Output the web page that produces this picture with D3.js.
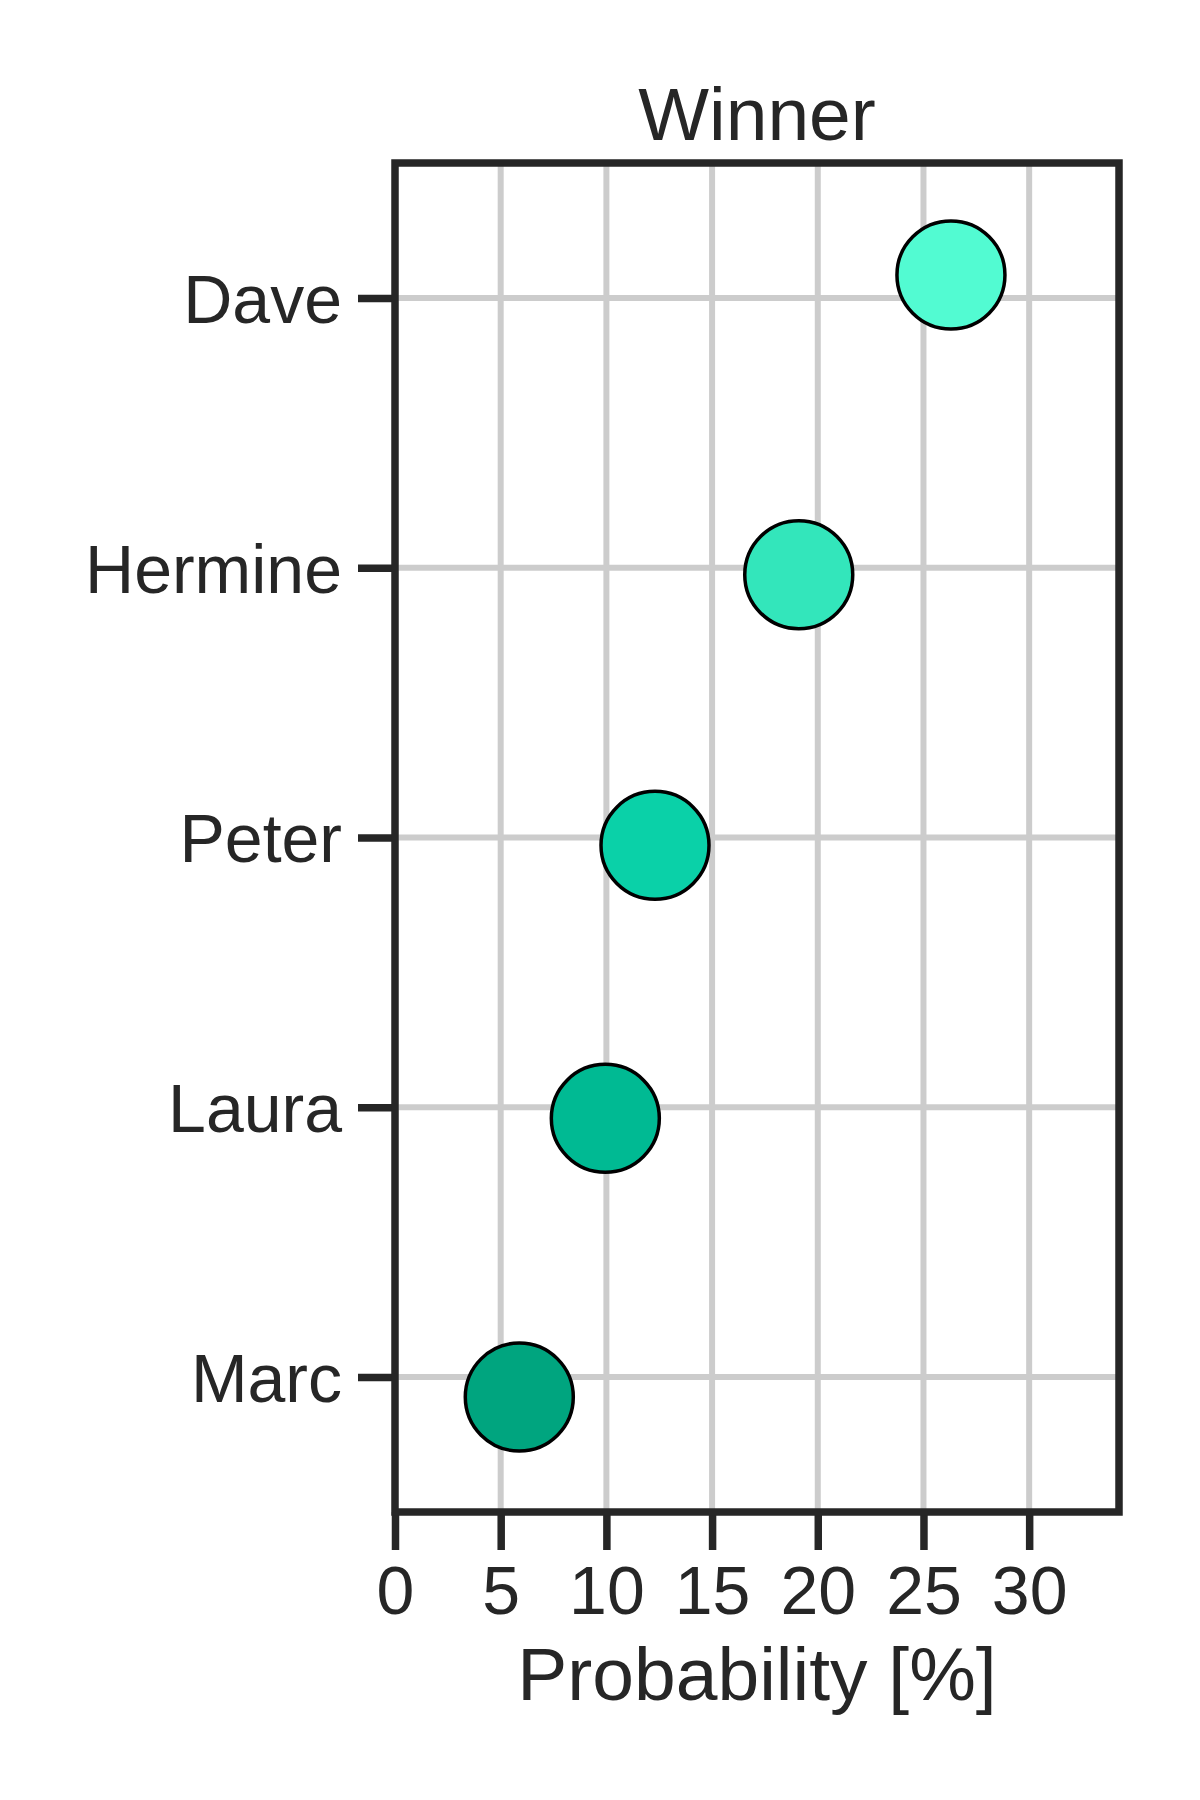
<!DOCTYPE html>
<html>
<head>
<meta charset="utf-8">
<script src="https://cdn.jsdelivr.net/npm/d3@7"></script>
<style>
  html, body { margin: 0; padding: 0; background: #ffffff; }
  svg { display: block; }
  text { font-family: "Liberation Sans", Arial, sans-serif; fill: #262626; }
</style>
</head>
<body>
<script>
// ---- data ----
const categories = ["Dave", "Hermine", "Peter", "Laura", "Marc"];
const probabilities = [26.3, 19.1, 12.3, 9.95, 5.88];
const jitter = [-0.085, 0.026, 0.029, 0.041, 0.074]; // stripplot jitter, in category steps
const colors = ["#52fbd2", "#33e6bb", "#0ad1a8", "#00ba93", "#00a57f"];
const xTicks = [0, 5, 10, 15, 20, 25, 30];
const xDomain = [0, 34.25];
const title = "Winner";
const xLabel = "Probability [%]";

(function () {
// ---- layout ----
const W = 1200, H = 1800;
const mLeft = 395, mRight = 1119, mTop = 163, mBottom = 1512;
const ink = "#262626";

const svg = d3.select("body").append("svg").attr("width", W).attr("height", H);

const x = d3.scaleLinear().domain(xDomain).range([mLeft, mRight]);
const y = d3.scalePoint().domain(categories).range([mTop, mBottom]).padding(0.5);
const step = y.step();

// gridlines
const grid = svg.append("g");
grid.selectAll("line.vg").data(xTicks).join("line").attr("class", "vg")
  .attr("x1", d => x(d)).attr("x2", d => x(d))
  .attr("y1", mTop).attr("y2", mBottom)
  .attr("stroke", "#cccccc").attr("stroke-width", 6);
grid.selectAll("line.hg").data(categories).join("line").attr("class", "hg")
  .attr("x1", mLeft).attr("x2", mRight)
  .attr("y1", d => y(d)).attr("y2", d => y(d))
  .attr("stroke", "#cccccc").attr("stroke-width", 6);

// points
const pts = categories.map((c, i) => ({c, v: probabilities[i], j: jitter[i], col: colors[i]}));
svg.append("g").selectAll("circle").data(pts).join("circle")
  .attr("cx", d => x(d.v))
  .attr("cy", d => y(d.c) + d.j * step)
  .attr("r", 54)
  .attr("fill", d => d.col)
  .attr("stroke", "#000000")
  .attr("stroke-width", 3.5);

// axes
const xAxis = d3.axisBottom(x).tickValues(xTicks).tickSize(38).tickPadding(16).tickSizeOuter(0);
const gx = svg.append("g").attr("transform", `translate(0,${mBottom})`).call(xAxis);
gx.select(".domain").remove();
gx.selectAll(".tick line").attr("stroke", ink).attr("stroke-width", 7.5);
gx.selectAll(".tick text").attr("font-size", 68).attr("fill", ink)
  .attr("font-family", "'Liberation Sans', Arial, sans-serif");

const yAxis = d3.axisLeft(y).tickSize(37).tickPadding(16).tickSizeOuter(0);
const gy = svg.append("g").attr("transform", `translate(${mLeft},0)`).call(yAxis);
gy.select(".domain").remove();
gy.selectAll(".tick line").attr("stroke", ink).attr("stroke-width", 7.5);
gy.selectAll(".tick text").attr("font-size", 68).attr("fill", ink)
  .attr("dy", "0.36em")
  .attr("font-family", "'Liberation Sans', Arial, sans-serif");

// spines (frame)
svg.append("rect")
  .attr("x", mLeft).attr("y", mTop)
  .attr("width", mRight - mLeft).attr("height", mBottom - mTop)
  .attr("fill", "none").attr("stroke", ink).attr("stroke-width", 7.5);

// title and x label
svg.append("text").attr("x", (mLeft + mRight) / 2).attr("y", 140)
  .attr("text-anchor", "middle").attr("font-size", 75).text(title);
svg.append("text").attr("x", (mLeft + mRight) / 2).attr("y", 1700)
  .attr("text-anchor", "middle").attr("font-size", 75).text(xLabel);
})();
</script>
</body>
</html>
